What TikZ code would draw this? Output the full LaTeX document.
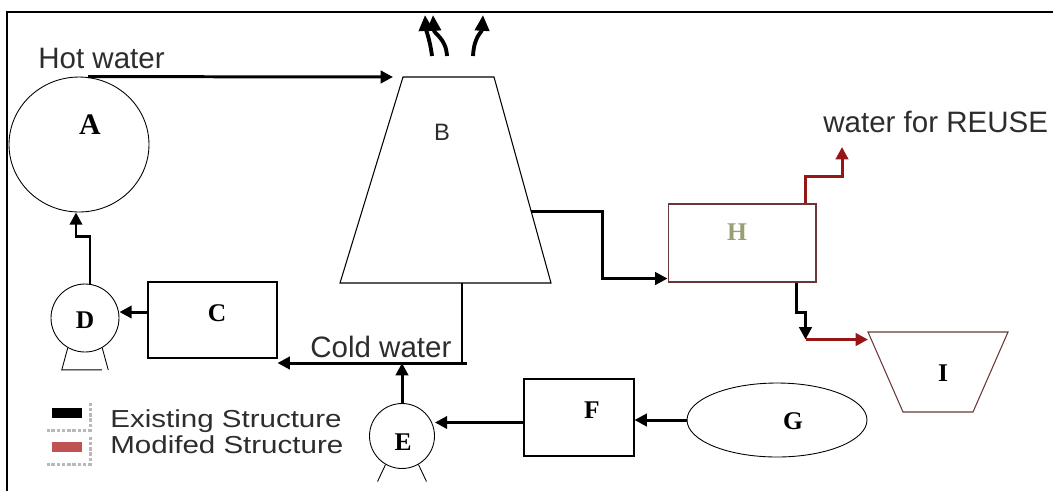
\documentclass[tikz,border=0pt]{standalone}
\usepackage{fontspec}
\setmainfont{Liberation Serif}
\setsansfont{Liberation Sans}
\newfontfamily\legfont[FakeStretch=1.2]{Liberation Sans}
\usepackage{tikz}
\usetikzlibrary{calc, arrows.meta, positioning, shapes.geometric}
\usepackage{xcolor}

\definecolor{modred}{RGB}{150,22,22}
\definecolor{hedge}{RGB}{105,55,55}
\definecolor{hlabel}{RGB}{150,160,112}
\definecolor{legred}{RGB}{192,82,82}
\definecolor{txtgray}{RGB}{45,45,45}

\begin{document}
\begin{tikzpicture}[x=0.02cm, y=-0.02cm,
    tank/.style={draw, ellipse, line width=0.5pt, inner sep=0pt,
                 minimum width=2.8cm, minimum height=2.7cm},
    shell/.style={line width=0.6pt, line join=miter},
    unit/.style={draw, rectangle, line width=0.6pt, inner sep=0pt},
    pump/.style={draw, circle, line width=0.5pt, inner sep=0pt},
    letter/.style={font=\fontsize{14.5}{16}\selectfont\bfseries, inner sep=0pt},
    txt/.style={font=\sffamily\fontsize{16.8}{20}\selectfont,
                text=txtgray, inner sep=0pt},
    legtxt/.style={font=\legfont\fontsize{14}{16}\selectfont,
                   text=txtgray, inner sep=0pt},
    swatch/.style={minimum width=0.6cm, minimum height=0.2cm, inner sep=0pt},
    legshade/.style={draw=gray!55, line width=2pt, densely dotted},
    arr/.style={-{Triangle[length=7pt,width=7pt]}, line width=1.7pt},
    modarr/.style={arr, modred},
    steam/.style={-{Triangle[length=9pt,width=8pt]}, line width=2.2pt},
    leg/.style={line width=0.5pt}
  ]
    \useasboundingbox (0,0) rectangle (1053,491);
    \draw[line width=1.1pt] (7,491) -- (7,12) -- (1053,12);

    % cooling tower B and basin I
    \coordinate (B-tl) at (403,77);  \coordinate (B-tr) at (494,77);
    \coordinate (B-bl) at (340,283); \coordinate (B-br) at (551,283);
    \draw[shell] (B-tl) -- (B-tr) -- (B-br) -- (B-bl) -- cycle;
    \coordinate (I-tl) at (868,332); \coordinate (I-tr) at (1008,332);
    \coordinate (I-bl) at (903,412); \coordinate (I-br) at (973,412);
    \draw[shell, draw=hedge] (I-tl) -- (I-tr) -- (I-br) -- (I-bl) -- cycle;

    % units
    \node[tank] (A) at (79,144.5) {};
    \node[letter, font=\fontsize{17}{19}\selectfont\bfseries] (A-lbl) at (90,125) {A};
    \node[txt, font=\sffamily\fontsize{13.5}{16}\selectfont] (B-lbl) at (442,132) {B};
    \node[unit, minimum width=2.58cm, minimum height=1.52cm] (C) at (212.5,320) {};
    \node[letter] (C-lbl) at (217,313) {C};
    \node[pump, minimum size=1.36cm] (D) at (85,318) {};
    \node[letter] (D-lbl) at (85,320) {D};
    \node[pump, minimum size=1.3cm] (E) at (402,436) {};
    \node[letter] (E-lbl) at (403,442) {E};
    \node[unit, minimum width=2.2cm, minimum height=1.54cm] (F) at (579,417.5) {};
    \node[letter] (F-lbl) at (592,410) {F};
    \node[tank, minimum width=3.6cm, minimum height=1.48cm] (G) at (777,420) {};
    \node[letter] (G-lbl) at (793,421) {G};
    \node[unit, draw=hedge, minimum width=2.96cm, minimum height=1.56cm] (H) at (742,243) {};
    \node[letter, text=hlabel] (H-lbl) at (737,232) {H};
    \node[letter] (I-lbl) at (943,373) {I};

    % texts
    \node[txt, anchor=base west] (hot) at (38,68) {Hot water};
    \node[txt, anchor=base west] (cold) at (310,357) {Cold water};
    \node[txt, anchor=base west] (reuse) at (823,132) {water for REUSE};

    % pump feet
    \draw[leg] (D.-120) -- ++(-6,22) -- ++(40,0);
    \draw[leg] (D.-60) -- ++(6,22);
    \draw[leg] (E.-120) -- ++(-8,17);
    \draw[leg] (E.-60) -- ++(8,17);

    % flows
    \draw[arr] ($(A.north)+(9,0)$) -- ($(B-tl)+(-10,0)$);
    \draw[steam] (432,56) .. controls (430,40) and (426,30) .. (425,15);
    \draw[steam] (447,56) .. controls (446,38) and (434,34) .. (433,15);
    \draw[steam] (473,56) .. controls (474,36) and (482,32) .. (483,15);

    \coordinate (Bout) at ($(B-tr)!0.655!(B-br)$);
    \draw[arr] (Bout) -- ++(71,0) |- ($(H.south west)+(0,-4)$);
    \draw[modarr] ($(H.north east)+(-11,0)$) -- ++(0,-27) -| ($(reuse.base west)+(19,15)$);
    \draw[arr] ($(H.south east)+(-20,0)$) -- ++(0,30) -- ++(9,0) -- ++(0,27) coordinate (Hdrop);
    \draw[modarr] (Hdrop) -- (Hdrop -| I-tl);

    \coordinate (cw) at (462,363);
    \draw[line width=0.6pt] (cw |- B-bl) -- (cw);
    \draw[arr] ($(cw)+(5,0)$) -- (cw -| C.east);
    \draw[arr] (E.north) -- (E.north |- cw);

    \coordinate (fe) at ($(F.west)+(0,5)$);
    \draw[arr] (fe) -- (fe -| E.east);
    \draw[arr] (G.west) -- (G.west -| F.east);
    \coordinate (cd) at ($(C.west)+(0,-8)$);
    \draw[arr] (cd) -- (cd -| D.east);
    \draw[arr] ($(D.north)+(5,0)$) -- ++(0,-47) -| ($(A.south)+(-3,0)$);

    % legend
    \node[swatch, fill=black] (exist) at (67,413) {};
    \node[swatch, fill=legred] (modif) at (67,447) {};
    \draw[legshade] ($(exist.north east)+(8,-5)$) |- ($(exist.south west)+(-5,12)$);
    \draw[legshade] ($(modif.north east)+(8,-5)$) |- ($(modif.south west)+(-5,12)$);
    \node[legtxt, anchor=base west] (exist-txt) at (110,427) {Existing Structure};
    \node[legtxt, anchor=base west] (modif-txt) at (110,453) {Modifed Structure};
  \end{tikzpicture}
\end{document}
